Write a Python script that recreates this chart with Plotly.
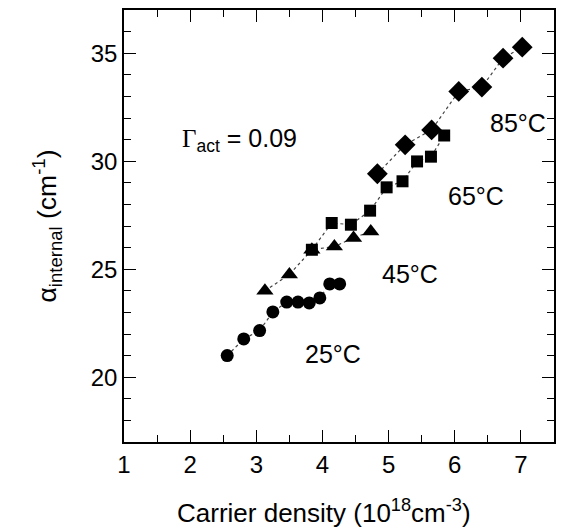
import plotly.graph_objects as go

# Internal loss vs. carrier density at four heat-sink temperatures
n_25 = [2.56, 2.81, 3.05, 3.25, 3.46, 3.63, 3.80, 3.96, 4.11, 4.26]
a_25 = [21.0, 21.77, 22.16, 23.02, 23.48, 23.48, 23.44, 23.67, 24.32, 24.32]

n_45 = [3.13, 3.50, 3.84, 4.18, 4.47, 4.73]
a_45 = [24.0, 24.75, 25.9, 26.05, 26.45, 26.75]

n_65 = [3.84, 4.14, 4.43, 4.72, 4.97, 5.21, 5.43, 5.64, 5.84]
a_65 = [25.9, 27.14, 27.06, 27.71, 28.79, 29.07, 29.99, 30.21, 31.19]

n_85 = [4.83, 5.25, 5.65, 6.06, 6.41, 6.73, 7.02]
a_85 = [29.42, 30.76, 31.45, 33.23, 33.43, 34.77, 35.28]

series = [
    ("25°C", n_25, a_25, "circle", 13),
    ("45°C", n_45, a_45, "triangle-up", 15),
    ("65°C", n_65, a_65, "square", 12),
    ("85°C", n_85, a_85, "diamond", 16),
]

# Temperature labels placed beside each data set
label_text = ["85°C", "65°C", "45°C", "25°C"]
label_x = [6.955, 6.32, 5.32, 4.16]
label_y = [31.76, 28.38, 24.77, 21.06]

FONT = "Liberation Sans, Arial, Helvetica, sans-serif"

fig = go.Figure()
for name, xs, ys, sym, sz in series:
    fig.add_trace(go.Scatter(
        x=xs, y=ys, mode="lines+markers", name=name,
        line=dict(color="#444444", width=1.2, dash="dot"),
        marker=dict(symbol=sym, size=sz, color="black"),
        showlegend=False,
    ))

for t, x, y in zip(label_text, label_x, label_y):
    fig.add_annotation(x=x, y=y, text=t, showarrow=False,
                       xanchor="center", yanchor="middle",
                       font=dict(family=FONT, size=25, color="black"))

fig.add_annotation(
    x=1.85, y=31.0, xanchor="left", yanchor="middle", showarrow=False,
    text='<span style="font-family:Liberation Serif, Times New Roman, serif">Γ</span>'
         '<sub>act</sub> = 0.09',
    font=dict(family=FONT, size=25, color="black"),
)

# x-axis title, set slightly left of the plot-area centre
fig.add_annotation(
    xref="paper", yref="paper", x=0.465, y=-0.16,
    xanchor="center", yanchor="middle", showarrow=False,
    text="Carrier density (10<sup>18</sup>cm<sup>-3</sup>)",
    font=dict(family=FONT, size=26, color="black"),
)

axis_common = dict(
    showline=True, linecolor="black", linewidth=1.5, mirror="allticks",
    ticks="inside", ticklen=12, tickwidth=1.2, tickcolor="black",
    showgrid=False, zeroline=False,
    tickfont=dict(family=FONT, size=24, color="black"),
)

fig.update_xaxes(
    range=[1, 7.5], tick0=1, dtick=1,
    minor=dict(ticks="inside", ticklen=7, tickwidth=1.1, tickcolor="black", dtick=0.5, tick0=1),
    **axis_common,
)
fig.update_yaxes(
    range=[17, 37], tick0=20, dtick=5,
    minor=dict(ticks="inside", ticklen=7, tickwidth=1.1, tickcolor="black", dtick=1, tick0=20),
    title=dict(text="α<sub>internal</sub> (cm<sup>-1</sup>)",
               font=dict(family=FONT, size=26.5, color="black"), standoff=26),
    **axis_common,
)

fig.update_layout(
    width=564, height=528,
    margin=dict(l=124, r=8, t=8, b=86),
    paper_bgcolor="white", plot_bgcolor="white",
)

fig.write_html("out.html")
